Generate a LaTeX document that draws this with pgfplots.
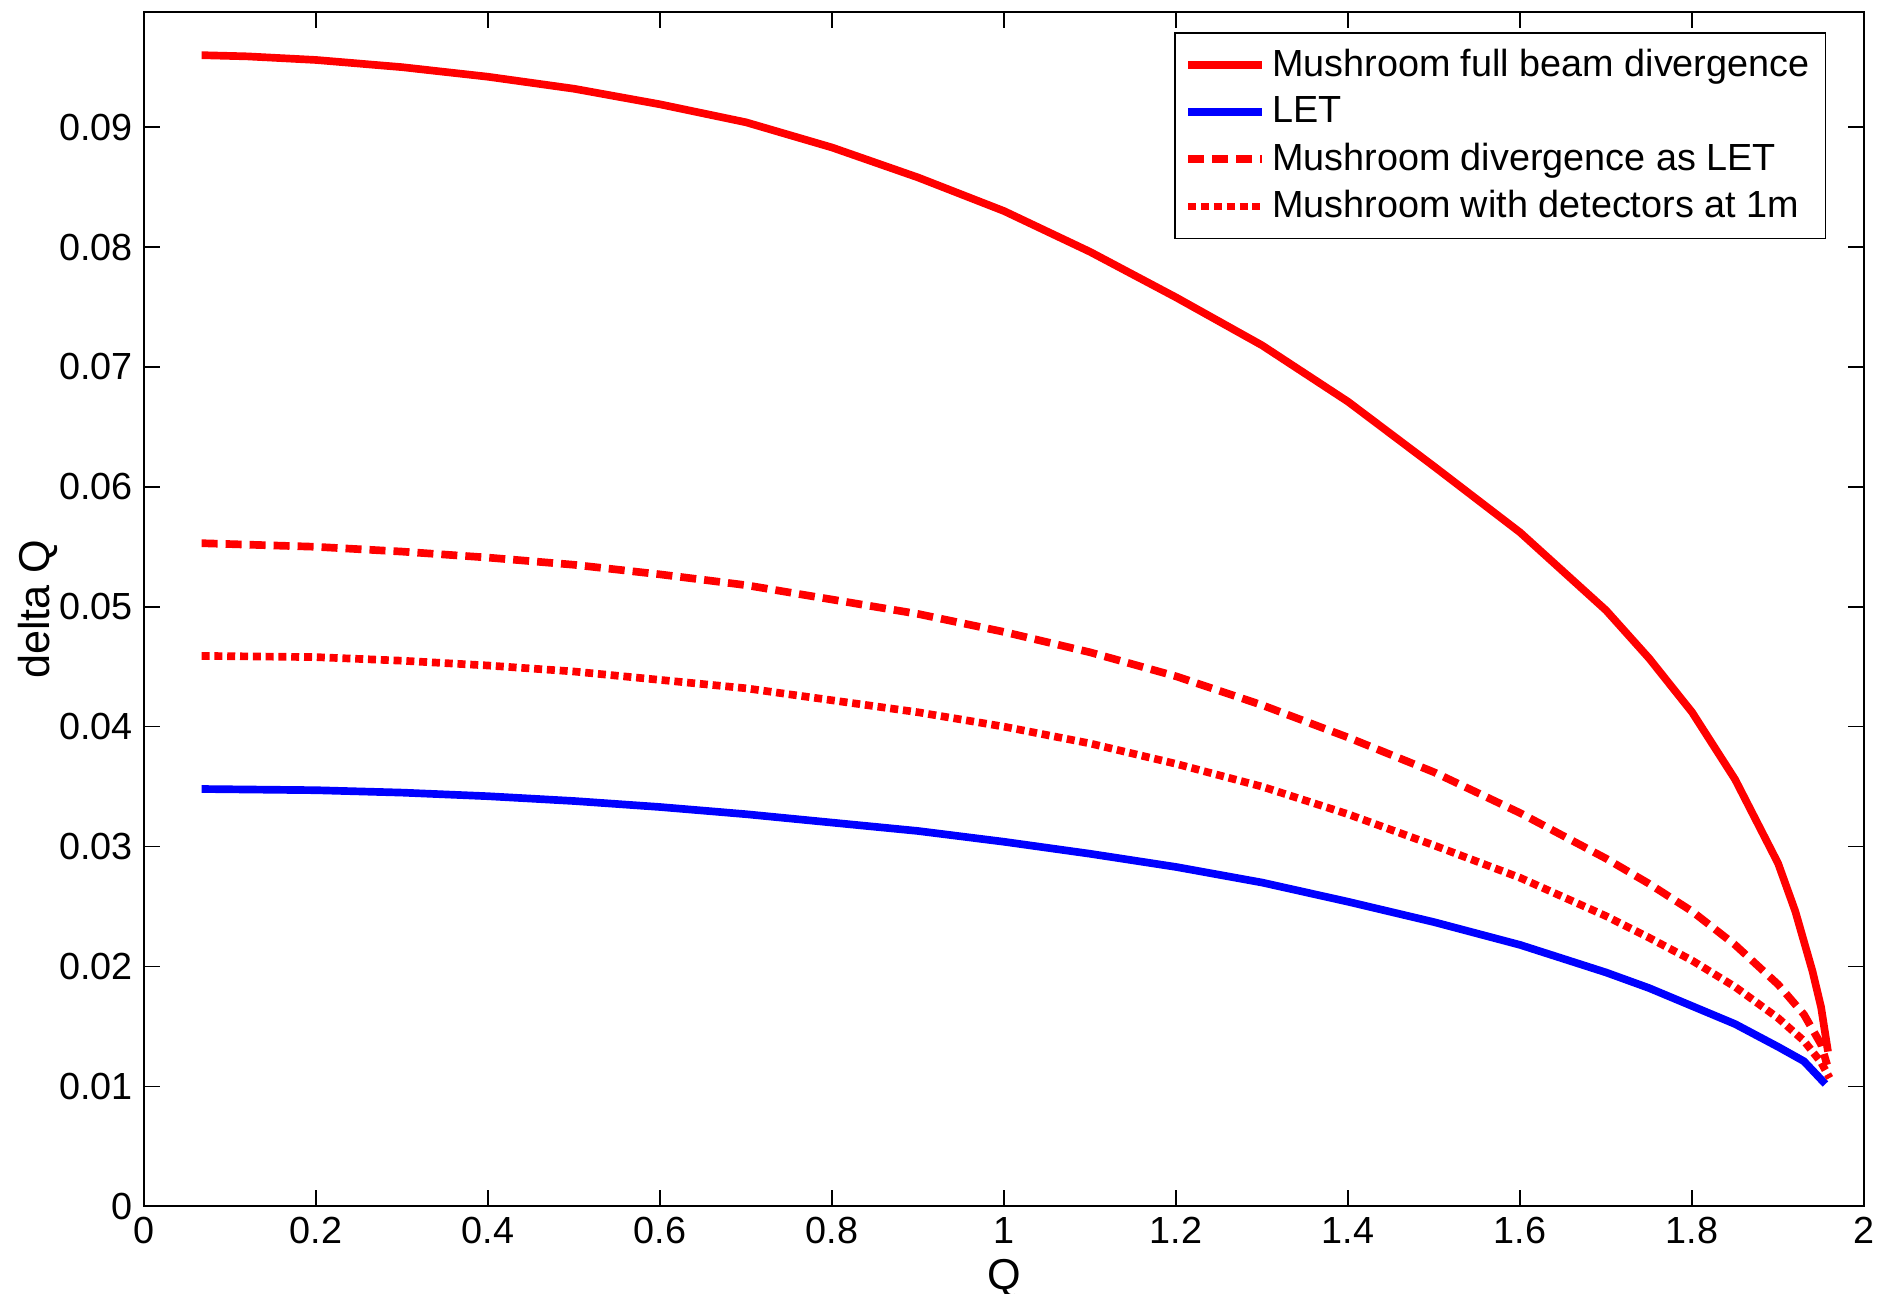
\documentclass[border=0pt]{standalone}
\usepackage{pgfplots}
\pgfplotsset{compat=1.18}
\usepackage{fontspec}
\setmainfont{Liberation Sans}
\begin{document}
\begin{tikzpicture}
\begin{axis}[
  scale only axis,
  width=537.5pt, height=373.2pt,
  xmin=0, xmax=2, ymin=0, ymax=0.0996,
  xtick={0,0.2,...,2.01},
  ytick={0,0.01,...,0.091},
  tick align=inside,
  major tick length=5pt,
  tick style={black, line width=0.5pt},
  axis line style={line width=0.6pt},
  font=\fontsize{11.8}{14}\selectfont,
  /pgf/number format/assume math mode=true,
  yticklabel style={/pgf/number format/.cd, fixed, precision=2},
  xticklabel style={/pgf/number format/.cd, fixed, precision=1},
  scaled y ticks=false,
  xlabel={Q}, ylabel={delta Q},
  xlabel style={font=\fontsize{13.5}{16}\selectfont, inner sep=0.5pt, yshift=-0.5pt},
  ylabel style={font=\fontsize{13.5}{16}\selectfont, yshift=-6.5pt},
  legend style={at={(0.978,0.983)}, anchor=north east, draw=black, line width=0.5pt,
    font=\fontsize{11.8}{14}\selectfont, row sep=0.8pt, inner sep=3pt},
  legend cell align=left,
  legend image code/.code={\draw[#1] (0pt,0pt) -- (23pt,0pt);},
]
\addplot[red, line width=2.4pt] coordinates {
(0.067,0.0960)(0.12,0.0959)(0.2,0.0956)(0.3,0.0950)(0.4,0.0942)(0.5,0.0932)(0.6,0.0919)
(0.7,0.0904)(0.8,0.0883)(0.9,0.0858)(1.0,0.0830)(1.1,0.0796)(1.2,0.0758)(1.3,0.0718)
(1.4,0.0671)(1.5,0.0617)(1.6,0.0562)(1.7,0.0497)(1.75,0.0457)(1.8,0.0412)(1.85,0.0356)
(1.9,0.0286)(1.92,0.0246)(1.94,0.0196)(1.95,0.0166)(1.958,0.0129)};
\addlegendentry{Mushroom full beam divergence}
\addplot[blue, line width=2.4pt] coordinates {
(0.067,0.0348)(0.2,0.0347)(0.3,0.0345)(0.4,0.0342)(0.5,0.0338)(0.6,0.0333)(0.7,0.0327)
(0.8,0.0320)(0.9,0.0313)(1.0,0.0304)(1.1,0.0294)(1.2,0.0283)(1.3,0.0270)(1.4,0.0254)
(1.5,0.0237)(1.6,0.0218)(1.7,0.0195)(1.75,0.0182)(1.8,0.0167)(1.85,0.0152)(1.9,0.0133)
(1.93,0.0121)(1.955,0.0102)};
\addlegendentry{LET}
\addplot[red, line width=2.4pt, dash pattern=on 5pt off 2.5pt] coordinates {
(0.067,0.0553)(0.2,0.0550)(0.3,0.0546)(0.4,0.0541)(0.5,0.0535)(0.6,0.0527)(0.7,0.0518)
(0.8,0.0506)(0.9,0.0494)(1.0,0.0479)(1.1,0.0462)(1.2,0.0442)(1.3,0.0418)(1.4,0.0391)
(1.5,0.0362)(1.6,0.0328)(1.7,0.0290)(1.75,0.0269)(1.8,0.0246)(1.85,0.0218)(1.9,0.0185)
(1.93,0.0160)(1.95,0.0135)(1.957,0.0118)};
\addlegendentry{Mushroom divergence as LET}
\addplot[red, line width=2.4pt, dash pattern=on 2.5pt off 1.5pt] coordinates {
(0.067,0.0459)(0.2,0.0458)(0.3,0.0455)(0.4,0.0451)(0.5,0.0446)(0.6,0.0439)(0.7,0.0432)
(0.8,0.0422)(0.9,0.0412)(1.0,0.0400)(1.1,0.0386)(1.2,0.0369)(1.3,0.0350)(1.4,0.0327)
(1.5,0.0301)(1.6,0.0274)(1.7,0.0242)(1.75,0.0224)(1.8,0.0205)(1.85,0.0183)(1.9,0.0157)
(1.93,0.0138)(1.95,0.0120)(1.96,0.0107)};
\addlegendentry{Mushroom with detectors at 1m}
\end{axis}
\pgfresetboundingbox
\useasboundingbox ([xshift=-45pt,yshift=-27.4pt]current axis.south west) rectangle ([xshift=5.6pt,yshift=3.75pt]current axis.north east);
\end{tikzpicture}
\end{document}
